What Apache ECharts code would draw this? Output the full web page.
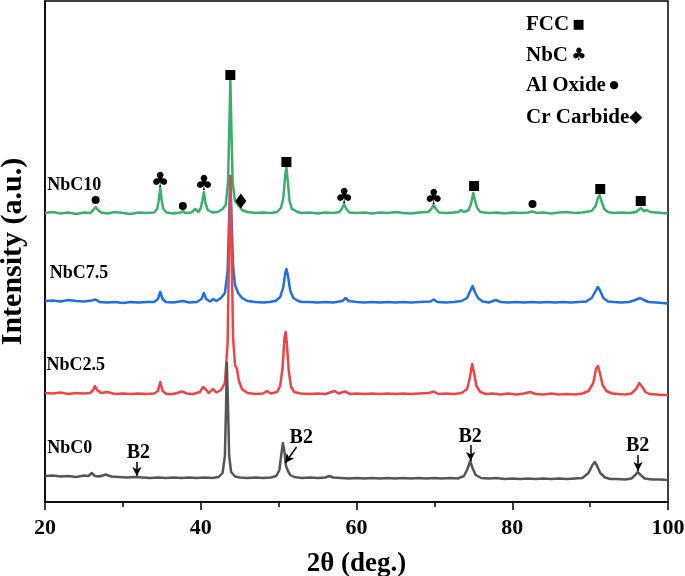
<!DOCTYPE html>
<html>
<head>
<meta charset="utf-8">
<script src="https://cdn.jsdelivr.net/npm/echarts@6/dist/echarts.min.js"></script>
<style>
  html, body { margin: 0; padding: 0; background: #fff; }
  #main { width: 685px; height: 576px; }
</style>
</head>
<body>
<div id="main"></div>
<script>
// XRD patterns, [2theta, intensity above own baseline]
var nbc10 = [[20,0],[21,1],[22,-0.5],[23,0.5],[24,-1],[25,0.5],[25.8,0],[26.2,3],[26.5,6],[26.8,3],[27.2,0.5],[28,-0.5],[29,1],[30,0],[31,-1],[32,0.5],[33,0],[34,0.5],[34.4,4],[34.6,12],[34.8,25],[35.0,12],[35.2,4],[35.6,0.5],[36.5,-0.5],[37.4,0.5],[37.7,2],[38.0,0],[38.8,0.5],[39.3,4],[39.7,1],[40.0,5],[40.2,12],[40.4,21],[40.6,10],[40.9,3],[41.5,0.5],[42.2,1],[42.8,4],[43.2,8],[43.5,30],[43.65,80],[43.8,134],[43.95,80],[44.1,30],[44.4,12],[44.8,8],[45.3,3],[46,1],[47,0],[48,0.5],[49,0],[49.8,1],[50.3,5],[50.6,15],[50.85,38],[51.0,46],[51.2,30],[51.4,12],[51.7,4],[52.0,3],[52.4,1],[53,0],[54,0.5],[55,-0.5],[56,0.5],[57,0],[57.8,1],[58.1,4],[58.4,9],[58.7,4],[59.1,0.5],[60,0],[61,0.5],[62,-0.5],[63,0.5],[64,0],[65,1],[66,0],[67,-0.5],[68,0.5],[69.2,1],[69.6,4],[69.9,8],[70.2,4],[70.6,0.5],[71.5,0],[72.5,0.5],[73.1,1],[73.4,3],[73.8,1],[74.4,3],[74.7,9],[75.0,20],[75.2,13],[75.5,5],[75.9,1],[77,0],[78,0.5],[79,-0.5],[80,0.5],[81,0],[82,0.5],[82.6,1.5],[83.2,0],[84,0.5],[85,-0.5],[86,0.5],[87,1],[88,0],[89,0.5],[90.2,2],[90.7,7],[91.0,15],[91.2,18],[91.5,11],[91.8,4],[92.3,1],[93,0],[94,0.5],[95,0],[95.9,1],[96.2,3],[96.5,5],[96.9,2],[97.3,3],[97.7,1],[98.5,0.5],[99.2,0],[100,-0.5]];

var nbc75 = [[20,0],[21,0.5],[22,-0.5],[23,1],[24,0],[25,-0.5],[26,0.5],[26.5,1.5],[27,-1],[28,-1.5],[29,-1],[30,-2],[31,-1],[32,-1.5],[33,-1],[34,-1],[34.5,2],[34.8,9],[35.1,2],[35.5,-1],[36.5,-1.5],[37.7,0],[38.5,-1.5],[39.5,-1],[40.1,2],[40.4,8],[40.7,2],[41.2,-0.5],[41.6,2],[42,0],[42.6,3],[43.1,8],[43.45,30],[43.65,85],[43.8,125],[43.95,85],[44.15,35],[44.4,16],[44.8,8],[45.3,3],[46,0],[47,-1],[48,-1.5],[48.8,-1],[49.6,0],[50.2,4],[50.6,14],[50.85,28],[51.0,32],[51.2,25],[51.5,10],[51.9,3],[52.5,0],[53,-1],[54,-1],[55,-1.5],[56,-1],[57,-1.5],[58.2,0],[58.6,3],[59,0],[60,-1],[61,-1.5],[62,-1],[63,-1.5],[64,-1],[65,-1.5],[66,-1],[67,-1.5],[68,-1],[69.5,-0.5],[69.9,1.5],[70.4,-1],[71.5,-1.5],[72.5,-1],[73.5,0],[74.2,3],[74.6,10],[74.9,15],[75.2,9],[75.6,3],[76.2,-0.5],[77,-1.5],[77.9,1],[78.5,-1],[79.5,-1.5],[80.5,-1],[81.5,-1.5],[82.5,-1],[83.5,-1.5],[84.5,-1],[85.5,-1.5],[86.5,-1],[87.5,-1.5],[88.5,-1],[89.5,-0.5],[90.2,3],[90.7,10],[91.0,14],[91.3,10],[91.7,3],[92.3,-0.5],[93,-1],[94,-1.5],[95,-1],[95.8,1],[96.4,3],[96.9,1],[97.5,-1],[98.5,-1.5],[99.3,-2],[100,-2.5]];

var nbc25 = [[20,0],[21,-0.5],[22,0.5],[23,-1],[24,0],[25,-0.5],[25.8,0],[26.2,3],[26.4,7],[26.7,3],[27.2,0],[28,1],[28.5,0],[29,-1],[30,-0.5],[31,-1],[32,-0.5],[33,-1],[34,-0.5],[34.5,2],[34.8,11],[35.1,2],[35.6,-1],[36.5,-1],[37.6,1.5],[38.2,-0.5],[39,-1],[39.9,1],[40.3,6],[40.6,4],[41.0,0],[41.6,4],[42,0.5],[42.6,3],[43.1,10],[43.45,50],[43.65,150],[43.8,217],[43.95,150],[44.15,55],[44.4,28],[44.65,24],[44.9,12],[45.3,4],[46,0],[47,-1],[48,-0.5],[48.5,2],[49,-0.5],[49.8,1],[50.2,7],[50.5,25],[50.75,55],[50.9,61],[51.05,50],[51.3,22],[51.6,6],[52,1],[52.8,-0.5],[54,-1],[55,-0.5],[56,-1],[57.2,2],[57.7,-0.5],[58.5,1.5],[59.2,-1],[60,-0.5],[61,-1],[62,-0.5],[63,-1],[64,-0.5],[65,-1],[66,-0.5],[67,-1],[68,-0.5],[69.3,0],[69.9,1.5],[70.5,-1],[71.5,-0.5],[72.5,-1],[73.5,0],[74.2,4],[74.55,15],[74.85,29],[75.1,20],[75.4,7],[75.9,1],[76.6,-1],[77.5,-0.5],[78.5,-1.5],[79.5,-0.5],[80.5,-1.5],[81.5,-0.5],[82.3,1],[83,-1],[84,-1.5],[85,-0.5],[86,-1.5],[87,-1],[88,-1.5],[89,-0.5],[89.8,2],[90.4,10],[90.75,24],[91.0,27],[91.25,20],[91.6,8],[92.1,2],[92.8,-0.5],[93.6,-1],[94.5,-1.5],[95.3,-0.5],[95.9,4],[96.3,10],[96.7,6],[97.1,1],[97.6,-1],[98.5,-1.5],[99.2,-2],[100,-2]];

var nbc0 = [[20,0],[21,0.5],[22,-0.5],[23,0],[24,-1],[25,0.5],[25.6,0],[26,3],[26.4,0],[27,-0.5],[27.8,1.5],[28.5,-0.5],[29.5,-1],[30.5,-1.5],[31.5,-1],[32.5,-1.5],[33.5,-2],[34.5,-1.5],[35.5,-2],[36.5,-1.5],[37.5,-2],[38.5,-1.5],[39.5,-2],[40.5,-1.5],[41.5,-2],[42.3,-1],[42.8,3],[43.1,20],[43.25,70],[43.35,113],[43.5,70],[43.65,20],[43.9,4],[44.4,-0.5],[45,-1.5],[46,-2],[47,-1.5],[48,-2],[49,-1.5],[49.7,0],[50.1,6],[50.35,22],[50.55,33],[50.75,24],[50.95,10],[51.2,5],[51.5,1],[52,-1],[53,-2],[54,-1.5],[55,-2],[56,-1.5],[56.5,0],[57,-1.5],[58,-2],[59,-2.5],[60,-2],[61,-2.5],[62,-2],[63,-2.5],[64,-2],[65,-2.5],[66,-2],[67,-2.5],[68,-2],[69,-2.5],[70,-2],[71,-2.5],[72,-2],[73,-2.5],[73.8,0],[74.25,7],[74.6,15],[74.9,8],[75.3,1],[76,-2],[77,-2.5],[78,-2],[79,-3],[80,-2.5],[81,-3],[82,-2.5],[83,-3],[84,-2.5],[85,-3],[86,-2.5],[87,-3],[88,-2.5],[89,-2],[89.8,3],[90.3,11],[90.6,14],[90.9,10],[91.3,3],[91.9,-1.5],[92.6,-3],[93.5,-3],[94.5,-3.5],[95.3,-2.5],[95.8,1],[96.1,4],[96.5,1],[97,-2.5],[98,-3.5],[99,-3.5],[100,-4]];

var names = ['NbC10', 'NbC7.5', 'NbC2.5', 'NbC0'];
var colors = ['#3aaf6c', '#1f6fe0', '#f04444', '#555555'];
var offsets = [289, 201, 109, 26];
var nameLabelPos = [[20.3, 317], [20.6, 229], [20.2, 137], [20.3, 54]];

// phase markers [2theta, height on the stacked scale]
var fccMarks = [[43.8, 427], [51.0, 340], [75.1, 316], [91.3, 313], [96.5, 301]];
var nbcMarks = [[34.8, 320], [40.4, 317], [58.4, 304], [69.9, 303]];
var oxideMarks = [[26.5, 302], [37.7, 296], [82.6, 298]];
var carbideMarks = [[45.15, 301]];
var b2Labels = [[32.0, 49], [52.9, 64], [74.6, 65], [96.1, 56]];
var b2Arrows = [[[31.8, 40], [31.8, 26]], [[52.3, 55], [50.85, 39]], [[74.65, 57], [74.65, 41]], [[96.15, 47], [96.15, 31]]];

var serif = 'Liberation Serif';
var traces = [nbc10, nbc75, nbc25, nbc0];

var series = traces.map(function (d, i) {
  return {
    name: names[i],
    type: 'line',
    showSymbol: false,
    smooth: false,
    lineStyle: { width: 2.5, color: colors[i], join: 'round' },
    itemStyle: { color: colors[i] },
    data: d.map(function (p) { return [p[0], p[1] + offsets[i]]; })
  };
});

var solid = { color: '#000', opacity: 1 };

series.push({
  type: 'scatter',
  symbolSize: 0,
  z: 5,
  itemStyle: solid,
  label: {
    show: true, position: 'right', distance: 0,
    formatter: function (p) { return names[p.dataIndex]; },
    fontFamily: serif, fontWeight: 'bold', fontSize: 18, color: '#000', opacity: 1
  },
  data: nameLabelPos
});

series.push({
  type: 'scatter', symbol: 'rect', symbolSize: 10, z: 6,
  itemStyle: solid, data: fccMarks
});
series.push({
  type: 'scatter', symbol: 'circle', symbolSize: 8, z: 6,
  itemStyle: solid, data: oxideMarks
});
series.push({
  type: 'scatter', symbol: 'diamond', symbolSize: [11, 15], z: 6,
  itemStyle: solid, data: carbideMarks
});
series.push({
  type: 'scatter', symbolSize: 0, z: 6,
  itemStyle: solid,
  label: {
    show: true, position: 'inside', formatter: '\u2663',
    fontFamily: 'DejaVu Sans', fontWeight: 'bold', fontSize: 21, color: '#000', opacity: 1
  },
  data: nbcMarks
});
series.push({
  type: 'scatter', symbolSize: 0, z: 6,
  itemStyle: solid,
  label: {
    show: true, position: 'inside', formatter: 'B2',
    fontFamily: serif, fontWeight: 'bold', fontSize: 20, color: '#000', opacity: 1
  },
  data: b2Labels,
  markLine: {
    silent: true,
    symbol: ['none', 'arrow'],
    symbolSize: [7, 9],
    label: { show: false },
    lineStyle: { color: '#000', width: 1.5, type: 'solid', opacity: 1 },
    data: b2Arrows.map(function (a) {
      return [{ coord: a[0] }, { coord: a[1] }];
    })
  }
});

var chart = echarts.init(document.getElementById('main'));
chart.setOption({
  animation: false,
  backgroundColor: '#fff',
  grid: {
    left: 45, right: 17, top: 1, bottom: 74,
    outerBoundsMode: 'none',
    containLabel: false,
    show: true, borderColor: '#000', borderWidth: 1.5
  },
  xAxis: {
    type: 'value', min: 20, max: 100, interval: 20,
    name: '2\u03b8 (deg.)', nameLocation: 'middle', nameGap: 49,
    nameTextStyle: { fontFamily: serif, fontWeight: 'bold', fontSize: 27, color: '#000' },
    axisLine: { lineStyle: { color: '#000', width: 1.5 } },
    axisTick: { show: true, inside: false, length: 8, lineStyle: { color: '#000', width: 1.5 } },
    minorTick: { show: true, splitNumber: 2, length: 5, lineStyle: { color: '#000', width: 1.5 } },
    splitLine: { show: false },
    axisLabel: { fontFamily: serif, fontWeight: 'bold', fontSize: 22, color: '#000', margin: 15 }
  },
  yAxis: {
    type: 'value', min: 0, max: 501,
    name: 'Intensity (a.u.)', nameLocation: 'middle', nameGap: 17,
    nameTextStyle: { fontFamily: serif, fontWeight: 'bold', fontSize: 30, color: '#000' },
    axisLine: { show: true, lineStyle: { color: '#000', width: 1.5 } },
    axisTick: { show: false },
    axisLabel: { show: false },
    splitLine: { show: false }
  },
  graphic: [{
    type: 'group', left: 526, top: 14,
    children: [
      { type: 'text', top: 0, style: { text: '{a|FCC} {b|\u25a0}', rich: legendRich() } },
      { type: 'text', top: 31, style: { text: '{a|NbC} {c|\u2663}', rich: legendRich() } },
      { type: 'text', top: 61, style: { text: '{a|Al Oxide} {d|\u25cf}', rich: legendRich() } },
      { type: 'text', top: 93, style: { text: '{a|Cr Carbide}{e|\u25c6}', rich: legendRich() } }
    ]
  }],
  series: series
});

function legendRich() {
  return {
    a: { fontFamily: serif, fontWeight: 'bold', fontSize: 21, color: '#000' },
    b: { fontFamily: 'DejaVu Sans', fontSize: 13, color: '#000' },
    c: { fontFamily: 'DejaVu Sans', fontSize: 17, color: '#000' },
    d: { fontFamily: 'DejaVu Sans', fontSize: 11, color: '#000' },
    e: { fontFamily: 'DejaVu Sans', fontSize: 17, color: '#000' }
  };
}
</script>
</body>
</html>
